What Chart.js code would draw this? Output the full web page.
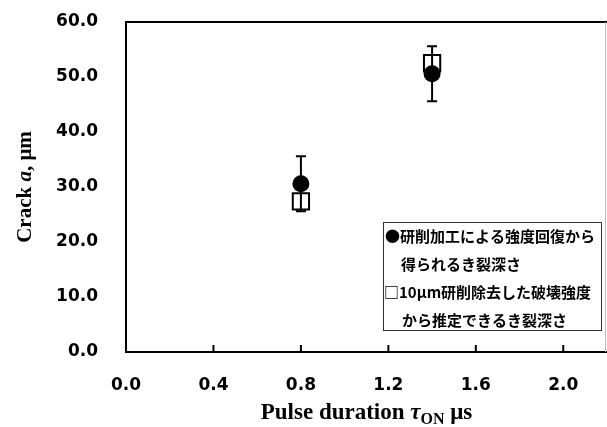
<!DOCTYPE html>
<html>
<head>
<meta charset="utf-8">
<script src="https://cdn.jsdelivr.net/npm/chart.js@4"></script>
<style>
  body { margin: 0; background: #fff; }
  #wrap { width: 607px; height: 427px; }
</style>
</head>
<body>
<div id="wrap"><canvas id="myChart" width="607" height="427"></canvas></div>
<script>
// Data
const pulseDuration = [0.8, 1.4];
const grindCrack = [30.6, 50.6];     // filled circles
const grindErr = [5.0, 5.0];
const strengthCrack = [27.4, 52.5];  // open squares
const xTicks = [0.0, 0.4, 0.8, 1.2, 1.6, 2.0];
const yTicks = [0, 10, 20, 30, 40, 50, 60];
const legendLines = [
    "●研削加工による強度回復から",
    "得られるき裂深さ",
    "□10μm研削除去した破壊強度",
    "から推定できるき裂深さ"
];

const serif = "'Liberation Serif', 'Times New Roman', serif";

// Error bars, inside ticks, frame, legend box and axis titles
const extras = {
    id: 'extras',
    afterDatasetsDraw(chart) {
        const ctx = chart.ctx;
        const xs = chart.scales.x;
        const ys = chart.scales.y;
        const area = chart.chartArea;
        ctx.save();
        ctx.strokeStyle = '#000';
        ctx.lineWidth = 2;
        // error bars of the circle series
        for (let i = 0; i < pulseDuration.length; i++) {
            let x = xs.getPixelForValue(pulseDuration[i]);
            let top = ys.getPixelForValue(grindCrack[i] + grindErr[i]);
            let bot = ys.getPixelForValue(grindCrack[i] - grindErr[i]);
            ctx.beginPath();
            ctx.moveTo(x, top); ctx.lineTo(x, bot);
            ctx.moveTo(x - 5, top); ctx.lineTo(x + 5, top);
            ctx.moveTo(x - 5, bot); ctx.lineTo(x + 5, bot);
            ctx.stroke();
        }
        // x ticks pointing inward
        xTicks.forEach(function(v) {
            if (v === 0) return;
            let x = xs.getPixelForValue(v);
            ctx.beginPath();
            ctx.moveTo(x, area.bottom);
            ctx.lineTo(x, area.bottom - 7);
            ctx.stroke();
        });
        // top border and right edge
        ctx.beginPath();
        ctx.moveTo(area.left, area.top);
        ctx.lineTo(area.right, area.top);
        ctx.stroke();
        ctx.strokeStyle = '#bbb';
        ctx.lineWidth = 1;
        ctx.beginPath();
        ctx.moveTo(area.right - 1.5, area.top);
        ctx.lineTo(area.right - 1.5, area.bottom);
        ctx.stroke();

        // legend box
        ctx.fillStyle = '#fff';
        ctx.fillRect(383, 222, 218, 108);
        ctx.strokeStyle = '#333';
        ctx.lineWidth = 1;
        ctx.strokeRect(383.5, 222.5, 218, 108);
        ctx.fillStyle = '#000';
        ctx.font = "bold 15px 'Noto Sans CJK JP'";
        ctx.textBaseline = 'middle';
        ctx.textAlign = 'left';
        const lx = [385, 401, 384, 402];
        const ly = [236, 264, 292, 320];
        legendLines.forEach(function(t, i) {
            ctx.fillText(t, lx[i], ly[i]);
        });

        // x axis title with subscript
        ctx.textBaseline = 'alphabetic';
        const runs = [
            { t: "Pulse duration ", f: "bold 23px " + serif, dy: 0 },
            { t: "τ", f: "italic bold 23px " + serif, dy: 0 },
            { t: "ON", f: "bold 16px " + serif, dy: 5 },
            { t: " μs", f: "bold 23px " + serif, dy: 0 }
        ];
        let total = 0;
        runs.forEach(function(r) { ctx.font = r.f; r.w = ctx.measureText(r.t).width; total += r.w; });
        let cx = (area.left + area.right) / 2 - total / 2;
        runs.forEach(function(r) {
            ctx.font = r.f;
            ctx.fillText(r.t, cx, 419 + r.dy);
            cx += r.w;
        });

        // y axis title
        const yruns = [
            { t: "Crack ", f: "bold 21px " + serif },
            { t: "a", f: "italic bold 21px " + serif },
            { t: ", μm", f: "bold 21px " + serif }
        ];
        total = 0;
        yruns.forEach(function(r) { ctx.font = r.f; r.w = ctx.measureText(r.t).width; total += r.w; });
        ctx.translate(31, (area.top + area.bottom) / 2);
        ctx.rotate(-Math.PI / 2);
        cx = -total / 2;
        yruns.forEach(function(r) {
            ctx.font = r.f;
            ctx.fillText(r.t, cx, 0);
            cx += r.w;
        });
        ctx.restore();
    }
};

const tickFont = { family: "'DejaVu Sans'", size: 17, weight: 'bold' };

function noPad(scale) {
    scale.paddingLeft = 0;
    scale.paddingRight = 0;
    scale.paddingTop = 0;
    scale.paddingBottom = 0;
}

const ctx = document.getElementById('myChart').getContext('2d');
const chart = new Chart(ctx, {
    type: 'scatter',
    data: {
        datasets: [{
            label: '研削加工による強度回復から得られるき裂深さ',
            data: pulseDuration.map((x, i) => ({ x: x, y: grindCrack[i] })),
            pointStyle: 'circle',
            pointRadius: 8.5,
            pointHoverRadius: 8.5,
            backgroundColor: '#000',
            borderColor: '#000',
            borderWidth: 0
        }, {
            label: '10μm研削除去した破壊強度から推定できるき裂深さ',
            data: pulseDuration.map((x, i) => ({ x: x, y: strengthCrack[i] })),
            pointStyle: 'rect',
            pointRadius: 11.5,
            pointHoverRadius: 11.5,
            backgroundColor: 'rgba(255,255,255,0)',
            borderColor: '#000',
            borderWidth: 2
        }]
    },
    options: {
        responsive: false,
        animation: false,
        events: [],
        layout: { autoPadding: false, padding: { top: 22, right: 0, left: 0, bottom: 0 } },
        plugins: {
            legend: { display: false },
            tooltip: { enabled: false }
        },
        scales: {
            x: {
                type: 'linear',
                min: 0,
                max: 2.2,
                afterBuildTicks: function(scale) { scale.ticks = xTicks.map(v => ({ value: v })); },
                afterFit: function(scale) { scale.height = 75; noPad(scale); },
                grid: { display: false, drawTicks: false },
                border: { display: true, color: '#000', width: 2 },
                ticks: {
                    color: '#000',
                    font: tickFont,
                    padding: 23,
                    maxRotation: 0,
                    callback: v => v.toFixed(1)
                }
            },
            y: {
                type: 'linear',
                min: 0,
                max: 60,
                afterBuildTicks: function(scale) { scale.ticks = yTicks.map(v => ({ value: v })); },
                afterFit: function(scale) { scale.width = 126; noPad(scale); },
                grid: { display: false, drawTicks: false },
                border: { display: true, color: '#000', width: 2 },
                ticks: {
                    color: '#000',
                    font: tickFont,
                    padding: 28,
                    callback: v => v.toFixed(1)
                }
            }
        }
    },
    plugins: [extras]
});
</script>
</body>
</html>
